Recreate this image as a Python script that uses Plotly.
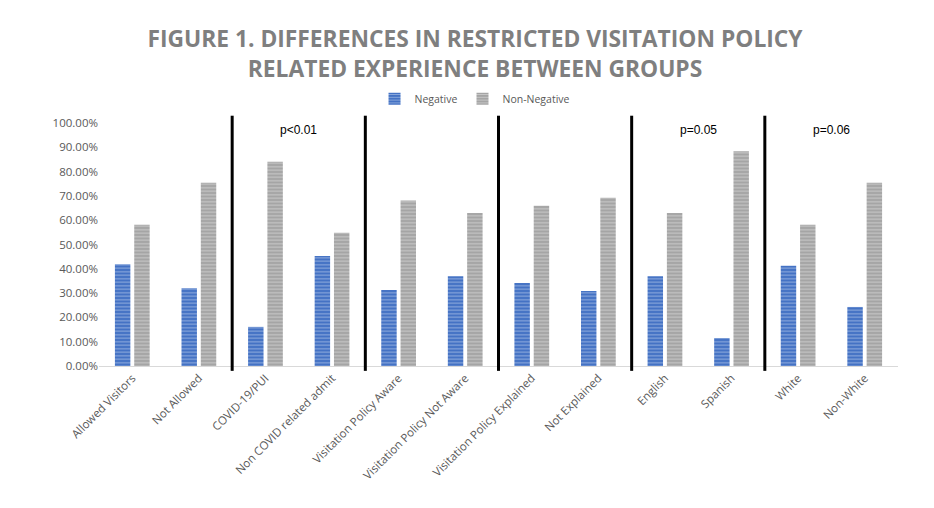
import plotly.graph_objects as go

categories = ["Allowed Visitors", "Not Allowed", "COVID-19/PUI", "Non COVID related admit",
              "Visitation Policy Aware", "Visitation Policy Not Aware",
              "Visitation Policy Explained", "Not Explained", "English", "Spanish",
              "White", "Non-White"]
negative = [0.419, 0.320, 0.161, 0.453, 0.313, 0.369, 0.342, 0.309, 0.369, 0.115, 0.413, 0.243]
non_negative = [0.581, 0.754, 0.841, 0.548, 0.681, 0.630, 0.659, 0.692, 0.630, 0.884, 0.581, 0.754]
separators = [1.5, 3.5, 5.5, 7.5, 9.5]
p_labels = ["p<0.01", "p=0.05", "p=0.06"]
p_positions = [2.5, 8.5, 10.5]

fig = go.Figure()
fig.add_bar(x=categories, y=negative, name="Negative",
            marker=dict(color="#4472C4", line=dict(width=0),
                        pattern=dict(shape="-", fgcolor="#DCE6F7", size=3.5, solidity=0.3, fillmode="overlay")))
fig.add_bar(x=categories, y=non_negative, name="Non-Negative",
            marker=dict(color="#A5A5A5", line=dict(width=0),
                        pattern=dict(shape="-", fgcolor="#EDEDED", size=3.5, solidity=0.3, fillmode="overlay")))

for s in separators:
    fig.add_shape(type="line", xref="x", yref="paper", x0=s, x1=s, y0=-0.02, y1=1.03,
                  line=dict(color="black", width=3))
for lab, pos in zip(p_labels, p_positions):
    fig.add_annotation(x=pos, y=1.008, xref="x", yref="paper", text=lab, showarrow=False,
                       font=dict(family="Liberation Sans, Arial", size=12, color="black"))

fig.update_layout(
    width=934, height=508,
    margin=dict(l=91, r=44, t=115, b=150),
    paper_bgcolor="white", plot_bgcolor="white",
    barmode="group", bargap=0.42, bargroupgap=0.2,
    title=dict(text="<b>FIGURE 1. DIFFERENCES IN RESTRICTED VISITATION POLICY<br>RELATED EXPERIENCE BETWEEN GROUPS</b>",
               x=0.5, xanchor="center", y=0.923, yanchor="top",
               font=dict(family="Open Sans", size=22.8, color="#7F7F7F")),
    legend=dict(orientation="h", x=0.47, xanchor="center",
                y=1.10, yanchor="middle",
                font=dict(family="Open Sans", size=10.5, color="#595959"),
                itemwidth=30, traceorder="normal"),
    xaxis=dict(tickangle=-45, showline=True, linecolor="#D9D9D9", linewidth=1,
               tickfont=dict(family="Open Sans", size=11.5, color="#595959"), ticks=""),
    yaxis=dict(range=[0, 1], dtick=0.1, tickformat=".2%", showgrid=False, zeroline=False,
               tickfont=dict(family="Open Sans", size=11.5, color="#595959"), ticks=""),
    font=dict(family="Open Sans"),
    showlegend=True,
)

fig.write_html("out.html")
